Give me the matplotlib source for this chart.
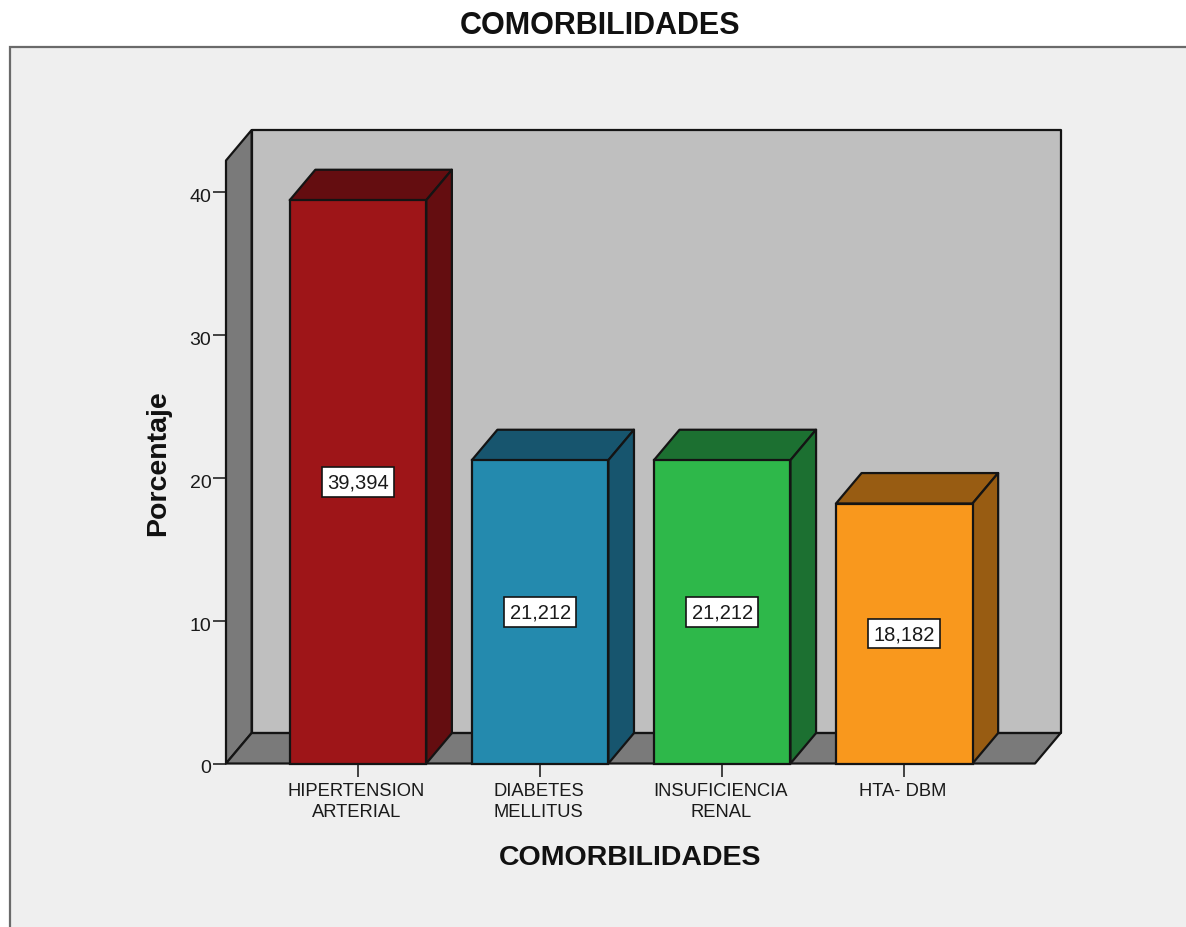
import matplotlib
matplotlib.use('Agg')
import matplotlib.pyplot as plt
from matplotlib.patches import Polygon, Rectangle
from matplotlib.transforms import ScaledTranslation

plt.rcParams['font.family'] = ['Liberation Sans', 'DejaVu Sans']

categorias = ['HIPERTENSION\nARTERIAL', 'DIABETES\nMELLITUS', 'INSUFICIENCIA\nRENAL', 'HTA- DBM']
porcentajes = [39.394, 21.212, 21.212, 18.182]
etiquetas = ['39,394', '21,212', '21,212', '18,182']
colores = ['#9E1518', '#248AAE', '#2EB84A', '#F9981D']
colores_lado = ['#640D10', '#17556E', '#1C7031', '#985C12']
marcas_y = [0, 10, 20, 30, 40]

W, H = 1186, 928
BORDE = '#141414'
LW = 1.6

# profundidad de la caja 3D, en unidades de los ejes
DX = 0.1406
DY = 2.13
ANCHO = 0.75
X_MIN, X_MAX = -0.725, 3.718
Y_MAX = 42.17

fig = plt.figure(figsize=(W / 100, H / 100), dpi=100, facecolor='white')

# panel gris de fondo, se sale por la derecha y por abajo
fig.add_artist(Rectangle((10 / W, -0.02), 1.1, (H - 48) / H + 0.02, transform=fig.transFigure,
                         facecolor='#EFEFEF', edgecolor='#6A6A6A', linewidth=1.6, zorder=-1))

ax = fig.add_axes([226 / W, (H - 764.5) / H, (1035 - 226) / W, (764.5 - 161.5) / H])
ax.patch.set_visible(False)
ax.set_xlim(X_MIN, X_MAX)
ax.set_ylim(0, Y_MAX)
for s in ax.spines.values():
    s.set_visible(False)


def poligono(puntos, color, z):
    ax.add_patch(Polygon(puntos, closed=True, facecolor=color, edgecolor=BORDE,
                         linewidth=LW, joinstyle='round', clip_on=False, zorder=z))


# paredes y piso
poligono([(X_MIN + DX, DY), (X_MAX + DX, DY), (X_MAX + DX, Y_MAX + DY), (X_MIN + DX, Y_MAX + DY)], '#BFBFBF', 1)
poligono([(X_MIN, 0), (X_MIN + DX, DY), (X_MIN + DX, Y_MAX + DY), (X_MIN, Y_MAX)], '#7A7A7A', 2)
poligono([(X_MIN, 0), (X_MAX, 0), (X_MAX + DX, DY), (X_MIN + DX, DY)], '#7A7A7A', 2)

# barras con cara frontal, tapa y lado
for i, v in enumerate(porcentajes):
    izq = i - ANCHO / 2
    der = i + ANCHO / 2
    poligono([(izq, v), (der, v), (der + DX, v + DY), (izq + DX, v + DY)], colores_lado[i], 3)
    poligono([(der, 0), (der + DX, DY), (der + DX, v + DY), (der, v)], colores_lado[i], 3)
    ax.bar(i, v, width=ANCHO, color=colores[i], edgecolor=BORDE, linewidth=LW, zorder=4, clip_on=False)
    ax.text(i, v / 2, etiquetas[i], ha='center', va='center', fontsize=14.5, color='#1A1A1A', zorder=5,
            bbox=dict(boxstyle='square,pad=0.27', facecolor='white', edgecolor=BORDE, linewidth=1.2))

ax.set_xticks(range(len(categorias)))
ax.set_xticklabels(categorias, linespacing=1.32)
ax.set_yticks(marcas_y)
ax.tick_params(axis='x', length=9.5, width=1.3, color='#333333', labelsize=13.2, labelcolor='#1A1A1A', pad=4)
ax.tick_params(axis='y', length=9.5, width=1.3, color='#333333', labelsize=14, labelcolor='#1A1A1A', pad=1)

# los numeros del eje y quedan un poco por debajo de su marca
bajar = ScaledTranslation(0, -2.5 / 100, fig.dpi_scale_trans)
for t in ax.get_yticklabels():
    t.set_transform(t.get_transform() + bajar)
izquierda = ScaledTranslation(-1.5 / 100, 0, fig.dpi_scale_trans)
for t in ax.get_xticklabels():
    t.set_transform(t.get_transform() + izquierda)

ax.set_xlabel('COMORBILIDADES', fontsize=20.5, fontweight='bold', color='#111111', labelpad=17)
ax.set_ylabel('Porcentaje', fontsize=20.5, fontweight='bold', color='#111111', labelpad=13)

fig.text(600 / W, 1 - 25.5 / H, 'COMORBILIDADES', ha='center', va='center',
         fontsize=22, fontweight='bold', color='#111111')

fig.savefig('out.png', dpi=100, facecolor='white')
